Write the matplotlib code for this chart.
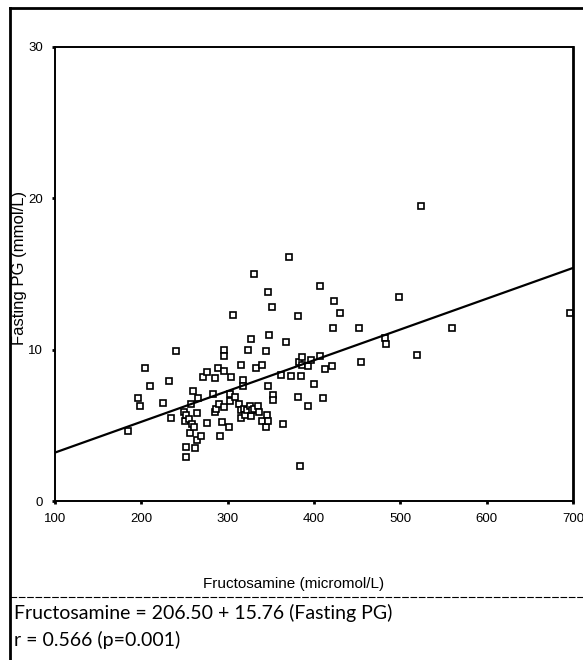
import matplotlib
matplotlib.use("Agg")
import matplotlib.pyplot as plt
from matplotlib.lines import Line2D

# Fructosamine (micromol/L) vs fasting plasma glucose (mmol/L)
fructosamine = [
    185, 196, 198, 204, 210, 225, 232, 234, 240, 249,
    251, 252, 252, 252, 255, 256, 258, 259, 260, 261,
    262, 264, 265, 266, 269, 271, 276, 276, 283, 285,
    285, 287, 289, 290, 291, 294, 296, 296, 296, 296,
    302, 303, 303, 304, 306, 308, 313, 315, 315, 316,
    318, 318, 319, 320, 322, 324, 326, 327, 327, 328,
    330, 331, 333, 335, 336, 340, 340, 344, 344, 346,
    347, 347, 347, 348, 351, 352, 352, 362, 364, 368,
    371, 373, 382, 382, 383, 384, 385, 386, 386, 393,
    393, 396, 400, 407, 407, 410, 413, 421, 422, 423,
    430, 452, 454, 482, 484, 498, 519, 524, 560, 697,
]
fasting_pg = [
    4.65, 6.8, 6.25, 8.8, 7.6, 6.5, 7.9, 5.5, 9.9, 5.9,
    5.3, 5.7, 3.6, 2.9, 5.4, 4.5, 6.4, 5.1, 7.3, 4.9,
    3.5, 5.8, 4.0, 6.8, 4.3, 8.2, 8.5, 5.15, 7.1, 8.1,
    5.9, 6.1, 8.8, 6.4, 4.3, 5.2, 10.0, 9.6, 8.6, 6.2,
    4.9, 7.1, 6.6, 8.2, 12.3, 6.9, 6.4, 9.0, 6.0, 5.5,
    8.0, 7.6, 6.1, 5.7, 6.0, 10.0, 6.3, 10.7, 5.6, 6.0,
    15.0, 6.1, 8.8, 6.3, 5.9, 9.0, 5.3, 9.9, 4.9, 5.7,
    13.8, 7.6, 5.3, 11.0, 12.8, 7.0, 6.7, 8.35, 5.1, 10.5,
    16.1, 8.25, 12.2, 6.9, 9.2, 2.3, 8.25, 9.5, 9.0, 8.9,
    6.25, 9.3, 7.7, 14.2, 9.6, 6.8, 8.7, 8.95, 11.4, 13.2,
    12.4, 11.4, 9.2, 10.8, 10.4, 13.5, 9.65, 19.5, 11.4, 12.45,
]

# fitted line end points
line_x = [100, 700]
line_y = [3.2, 15.4]

x_ticks = [100, 200, 300, 400, 500, 600, 700]
y_ticks = [0, 10, 20, 30]

equation = "Fructosamine = 206.50 + 15.76 (Fasting PG)"
corr_text = "r = 0.566 (p=0.001)"

fig = plt.figure(figsize=(5.83, 6.60), dpi=100)
ax = fig.add_axes([0.0943, 0.2409, 0.8885, 0.6879])

ax.plot(fructosamine, fasting_pg, linestyle="none", marker="s", markersize=4.8,
        markerfacecolor="white", markeredgecolor="black", markeredgewidth=1.2)
ax.plot(line_x, line_y, color="black", linewidth=1.6)

ax.set_xlim(100, 700)
ax.set_ylim(0, 30)
ax.set_xticks(x_ticks)
ax.set_yticks(y_ticks)
ax.tick_params(axis="both", direction="out", length=2.5, width=2, labelsize=9.5, pad=6)
for lab in ax.get_xticklabels() + ax.get_yticklabels():
    lab.set_family("Liberation Sans")
    lab.set_stretch("condensed")

for side in ["left", "bottom", "top"]:
    ax.spines[side].set_linewidth(1.4)
ax.spines["right"].set_linewidth(2.0)

ax.set_xlabel("Fructosamine (micromol/L)", fontsize=11, family="Liberation Sans")
ax.xaxis.set_label_coords(0.46, -0.167)
ax.set_ylabel("Fasting PG (mmol/L)", fontsize=12, family="Liberation Sans")
ax.yaxis.set_label_coords(-0.054, 0.513)

# outer frame and separator of the figure box
fig.add_artist(Line2D([0.0172, 0.0172], [0.988, 0.0], color="black", linewidth=2))
fig.add_artist(Line2D([0.0172, 1.0], [0.988, 0.988], color="black", linewidth=2))
fig.add_artist(Line2D([0.0172, 1.0], [0.0955, 0.0955], color="black", linewidth=0.8,
                      linestyle=(0, (6, 1.5))))

fig.text(0.024, 0.071, equation, fontsize=14, family="Lato", va="center", ha="left")
fig.text(0.024, 0.030, corr_text, fontsize=14, family="Lato", va="center", ha="left")

fig.savefig("out.png", dpi=100)
